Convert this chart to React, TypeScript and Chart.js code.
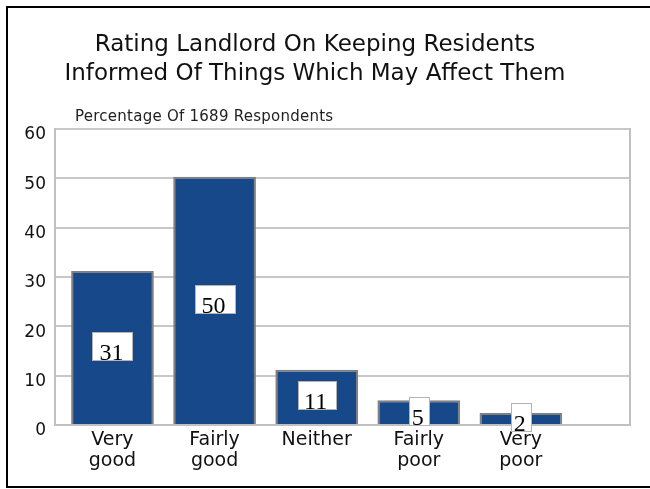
import React, { useEffect, useRef } from "react";
import { Chart, registerables } from "chart.js";

Chart.register(...registerables);

const titleLines = [
  "Rating Landlord On Keeping Residents",
  "Informed Of Things Which May Affect Them",
];
const subtitleText = "Percentage Of 1689 Respondents";
const categories = [
  ["Very", "good"],
  ["Fairly", "good"],
  ["Neither"],
  ["Fairly", "poor"],
  ["Very", "poor"],
];
const categoryPositions = [0, 1, 2, 3, 4];
const percentages = [31.2, 50.3, 11.2, 5.0, 2.45];
const yTicksMin = 0;
const yTicksMax = 60;
const yStep = 10;

const SANS = "'DejaVu Sans', 'Open Sans', sans-serif";
const SERIF = "'Liberation Serif', 'DejaVu Serif', serif";

const subtitlePlugin = {
  id: "subtitleText",
  afterDraw(chart: any) {
    const { ctx, chartArea } = chart;
    ctx.save();
    ctx.font = `15px ${SANS}`;
    try {
      (ctx as any).letterSpacing = "0.25px";
    } catch (e) {}
    ctx.fillStyle = "#222";
    ctx.textAlign = "left";
    ctx.textBaseline = "alphabetic";
    ctx.fillText(subtitleText, chartArea.left + 20, chartArea.top - 8.5);
    ctx.restore();
  },
};

const framePlugin = {
  id: "outerFrame",
  afterDraw(chart: any) {
    const { ctx, width, height } = chart;
    ctx.save();
    ctx.strokeStyle = "#000";
    ctx.lineWidth = 2;
    ctx.beginPath();
    ctx.moveTo(width + 5, 7);
    ctx.lineTo(7, 7);
    ctx.lineTo(7, height - 2);
    ctx.lineTo(width + 5, height - 2);
    ctx.stroke();
    ctx.restore();
  },
};

const valueBoxPlugin = {
  id: "valueBoxes",
  afterDatasetsDraw(chart: any) {
    const { ctx } = chart;
    const meta = chart.getDatasetMeta(0);
    ctx.save();
    ctx.font = `24px ${SERIF}`;
    meta.data.forEach((bar: any, i: number) => {
      const txt = String(Math.round(percentages[i]));
      const w = Math.round(ctx.measureText(txt).width * 1.65);
      const h = 28;
      const cx = bar.x;
      const cy = (bar.y + bar.base) / 2 - 1.5;
      const x0 = Math.round(cx - w / 2) + 0.5;
      const y0 = Math.round(cy - h / 2) + 0.5;
      ctx.fillStyle = "#ffffff";
      ctx.fillRect(x0, y0, w, h);
      ctx.strokeStyle = "#b4b4b4";
      ctx.lineWidth = 1;
      ctx.strokeRect(x0, y0, w, h);
      ctx.fillStyle = "#000";
      ctx.textAlign = "center";
      ctx.textBaseline = "alphabetic";
      ctx.fillText(txt, cx - 1, y0 + h - 1);
    });
    ctx.restore();
  },
};

export default function App() {
  const canvasRef = useRef<HTMLCanvasElement | null>(null);

  useEffect(() => {
    const canvas = canvasRef.current;
    if (!canvas) return;
    const chart = new Chart(canvas, {
      type: "bar",
      data: {
        datasets: [
          {
            data: percentages.map((v, i) => ({ x: categoryPositions[i], y: v })) as any,
            backgroundColor: "#17488a",
            borderColor: "#808080",
            borderWidth: 2,
            barPercentage: 0.9,
            categoryPercentage: 0.9,
          },
        ],
      },
      options: {
        responsive: false,
        animation: false,
        layout: { padding: { left: 0, right: 20, top: 0, bottom: 0 } },
        plugins: {
          legend: { display: false },
          tooltip: { enabled: false },
          title: {
            display: true,
            text: titleLines,
            color: "#111",
            align: "center",
            font: { family: SANS, size: 23, weight: "normal", lineHeight: 1.25 },
            padding: { top: 30.6, bottom: 40.9 },
          },
        },
        scales: {
          x: {
            type: "linear",
            min: -0.563,
            max: 5.069,
            offset: false,
            afterBuildTicks: (scale: any) => {
              scale.ticks = categoryPositions.map((p) => ({ value: p }));
            },
            afterFit: (scale: any) => {
              scale.height = 64;
            },
            grid: { display: false, drawTicks: false, offset: false },
            border: { display: true, color: "#c0c0c0", width: 2 },
            ticks: {
              autoSkip: false,
              maxRotation: 0,
              padding: 5,
              color: "#111",
              font: { family: SANS, size: 19, lineHeight: 1.1 },
              callback: (_v: any, index: number) => categories[index] ?? "",
            },
          },
          y: {
            min: yTicksMin,
            max: yTicksMax,
            afterFit: (scale: any) => {
              scale.width = 55;
            },
            grid: { color: "#c8c8c8", lineWidth: 2, drawTicks: false },
            border: { display: true, color: "#c0c0c0", width: 2 },
            ticks: {
              stepSize: yStep,
              padding: 9,
              labelOffset: 6,
              color: "#111",
              font: { family: SANS, size: 17 },
            },
          },
          y1: {
            type: "linear",
            position: "right",
            min: yTicksMin,
            max: yTicksMax,
            grid: { display: false, drawTicks: false },
            ticks: { display: false },
            border: { display: true, color: "#c0c0c0", width: 2 },
          },
        },
      } as any,
      plugins: [subtitlePlugin, valueBoxPlugin, framePlugin],
    });
    return () => chart.destroy();
  }, []);

  return (
    <div style={{ position: "fixed", left: 0, top: 0, width: 650, height: 489, background: "#fff", overflow: "hidden" }}>
      <canvas ref={canvasRef} width={650} height={489} style={{ position: "absolute", left: 0, top: 0 }} />
    </div>
  );
}
